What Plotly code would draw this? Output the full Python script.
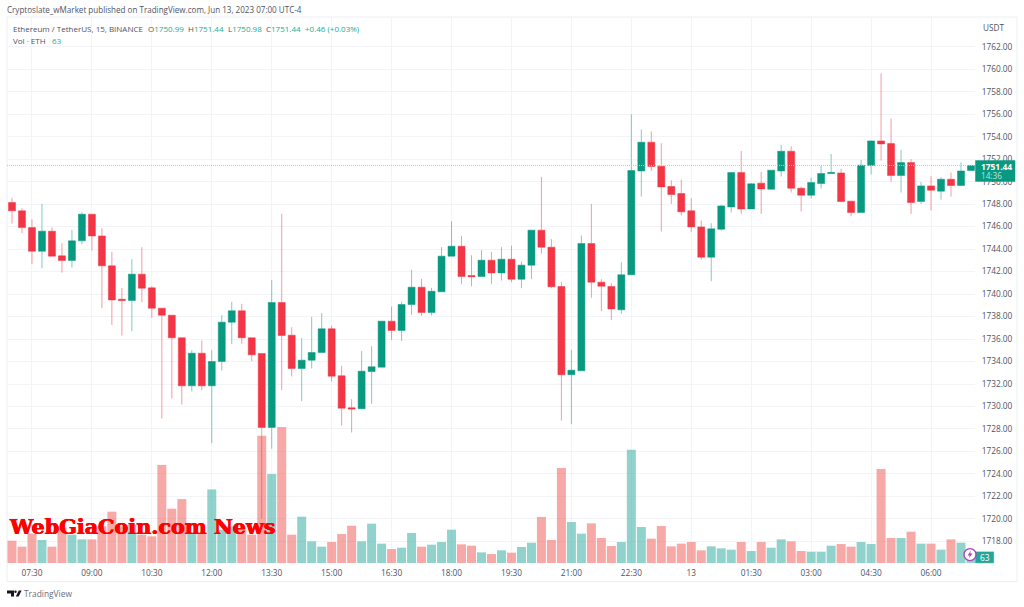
import pandas as pd
import plotly.graph_objects as go

times = pd.date_range("2023-06-12 07:00", periods=97, freq="15min")

opens = [1748.14,1747.40,1745.91,1743.81,1745.59,1743.40,1742.98,1744.73,1747.10,1745.17,
         1742.51,1739.54,1739.43,1741.77,1740.55,1738.74,1738.12,1736.11,1731.84,1734.74,
         1731.84,1734.00,1737.50,1738.51,1736.11,1734.71,1728.14,1739.25,1736.34,1733.38,
         1734.12,1734.80,1736.91,1732.73,1729.88,1729.80,1733.11,1733.50,1737.59,1736.76,
         1739.07,1740.61,1738.36,1740.20,1743.37,1744.25,1741.65,1741.56,1743.01,1741.88,
         1743.10,1741.32,1742.57,1745.68,1744.17,1740.67,1732.82,1733.17,1744.49,1741.06,
         1740.67,1738.60,1741.71,1750.95,1753.50,1751.37,1749.56,1748.94,1747.40,1745.97,
         1743.28,1745.77,1747.75,1750.80,1747.57,1749.86,1749.32,1750.95,1752.70,1749.41,
         1748.79,1749.83,1750.72,1750.77,1748.26,1747.25,1751.43,1753.62,1753.38,1750.54,
         1751.69,1748.23,1749.62,1749.15,1750.21,1749.65,1750.99]
highs = [1748.55,1747.63,1746.65,1748.02,1745.94,1744.52,1745.71,1747.28,1747.10,1745.85,
         1743.75,1740.55,1743.10,1744.17,1740.70,1738.74,1738.12,1736.11,1735.01,1735.87,
         1735.01,1738.12,1739.31,1739.13,1736.11,1734.71,1741.26,1747.13,1737.05,1736.08,
         1737.97,1738.30,1737.17,1733.62,1730.65,1734.92,1735.37,1737.59,1738.89,1739.31,
         1742.15,1741.35,1740.55,1744.17,1746.48,1745.17,1743.45,1743.90,1743.75,1744.17,
         1744.31,1742.89,1745.68,1750.42,1744.88,1741.08,1735.04,1745.20,1748.02,1741.32,
         1740.97,1742.83,1755.99,1754.63,1754.45,1753.41,1750.12,1750.18,1748.52,1746.54,
         1746.30,1747.93,1750.80,1752.73,1749.86,1750.86,1751.01,1753.26,1753.15,1749.56,
         1750.36,1751.40,1752.46,1751.13,1748.29,1751.93,1753.65,1759.63,1755.60,1752.82,
         1751.99,1749.97,1750.51,1750.39,1750.80,1751.72,1751.44]
lows = [1746.27,1745.41,1742.68,1742.30,1743.37,1741.91,1742.36,1744.43,1743.87,1738.74,
        1737.26,1736.31,1736.70,1739.28,1737.88,1728.94,1730.71,1730.18,1731.34,1731.45,
        1726.74,1733.20,1735.54,1735.57,1734.03,1720.02,1726.24,1731.45,1732.67,1730.48,
        1733.38,1734.80,1732.20,1728.31,1727.69,1729.80,1730.24,1733.50,1735.93,1735.84,
        1738.15,1738.06,1738.09,1740.20,1743.37,1740.88,1740.70,1741.56,1740.88,1741.20,
        1741.06,1740.52,1741.32,1743.60,1740.52,1728.76,1728.43,1733.17,1739.66,1738.48,
        1737.68,1738.24,1741.71,1748.67,1750.95,1745.56,1748.02,1746.98,1745.53,1743.04,
        1741.14,1745.65,1747.25,1747.13,1747.57,1747.13,1749.32,1750.45,1749.03,1747.34,
        1748.49,1749.38,1750.72,1748.17,1746.92,1747.25,1750.63,1751.87,1750.00,1749.03,
        1747.13,1748.02,1747.43,1748.40,1748.67,1749.65,1750.98]
closes = [1747.40,1745.91,1743.81,1745.59,1743.37,1742.98,1744.73,1747.10,1745.17,1742.51,
          1739.48,1739.43,1741.77,1740.52,1738.74,1738.12,1736.11,1731.84,1734.74,1731.84,
          1734.00,1737.50,1738.51,1736.11,1734.60,1728.14,1739.25,1736.31,1733.38,1734.12,
          1734.80,1736.91,1732.70,1729.85,1729.77,1733.14,1733.53,1737.59,1736.76,1739.07,
          1740.61,1738.36,1740.25,1743.37,1744.25,1741.56,1741.53,1743.01,1741.88,1743.10,
          1741.32,1742.57,1745.68,1744.17,1740.64,1732.82,1733.23,1744.49,1741.06,1740.70,
          1738.68,1741.71,1750.98,1753.50,1751.34,1749.53,1748.85,1747.31,1745.97,1743.28,
          1745.80,1747.84,1750.80,1747.57,1749.80,1749.35,1751.01,1752.70,1749.41,1748.79,
          1749.92,1750.72,1750.80,1748.23,1747.25,1751.46,1753.62,1753.35,1750.54,1751.69,
          1748.14,1749.62,1749.23,1750.21,1749.65,1750.95,1751.44]
volumes = [281,206,370,290,206,449,357,298,298,462,647,462,483,357,336,1235,685,806,378,370,
           928,420,462,420,357,1604,1121,1714,357,584,273,206,265,365,470,273,496,244,176,193,
           378,206,231,265,420,235,218,134,113,160,130,202,256,580,290,1197,517,370,500,315,
           214,265,1428,454,307,466,210,244,265,160,210,185,168,265,151,265,193,298,273,151,
           143,143,218,239,206,265,239,1184,315,315,395,244,244,168,298,256,63]

tick_times = ["2023-06-12 07:30","2023-06-12 09:00","2023-06-12 10:30","2023-06-12 12:00",
              "2023-06-12 13:30","2023-06-12 15:00","2023-06-12 16:30","2023-06-12 18:00",
              "2023-06-12 19:30","2023-06-12 21:00","2023-06-12 22:30","2023-06-13 00:00",
              "2023-06-13 01:30","2023-06-13 03:00","2023-06-13 04:30","2023-06-13 06:00"]
tick_labels = ["07:30","09:00","10:30","12:00","13:30","15:00","16:30","18:00","19:30","21:00",
               "22:30","13","01:30","03:00","04:30","06:00"]
price_ticks = list(range(1718, 1764, 2))
last_price = 1751.44

GREEN = "#089981"
RED = "#F23645"
GREEN_SOFT = "rgba(8,153,129,0.5)"
RED_SOFT = "rgba(242,54,69,0.5)"
VOL_GREEN = "rgba(38,166,154,0.5)"
VOL_RED = "rgba(239,83,80,0.5)"
GRID = "#F3F4F8"
TEXT = "#50535E"
FONT = "Open Sans"

L, R, T, B = 7, 975, 17, 563.4
px = lambda x: (x - L) / (R - L)
py = lambda y: (B - y) / (B - T)

fig = go.Figure()
fig.add_trace(go.Bar(
    x=times, y=volumes, yaxis="y",
    marker=dict(color=[VOL_GREEN if c >= o else VOL_RED for o, c in zip(opens, closes)], line_width=0),
    hoverinfo="skip", showlegend=False))
fig.add_trace(go.Candlestick(
    x=times, open=opens, high=highs, low=lows, close=closes, yaxis="y2",
    increasing=dict(fillcolor=GREEN, line=dict(color=GREEN_SOFT, width=1)),
    decreasing=dict(fillcolor=RED, line=dict(color=RED_SOFT, width=1)),
    whiskerwidth=0, showlegend=False))


def rect(x0, y0, x1, y1, fill="rgba(0,0,0,0)", line="rgba(0,0,0,0)", layer="above", width=1, kind="rect"):
    return dict(type=kind, xref="paper", yref="paper", x0=px(x0), x1=px(x1), y0=py(y0), y1=py(y1),
                fillcolor=fill, line=dict(color=line, width=width), layer=layer)


def path(points, fill="rgba(0,0,0,0)", line="rgba(0,0,0,0)", width=1):
    d = "M" + " L".join(f"{px(x):.5f},{py(y):.5f}" for x, y in points) + " Z"
    return dict(type="path", xref="paper", yref="paper", path=d, fillcolor=fill,
                line=dict(color=line, width=width), layer="above")


shapes = [
    rect(7, 17, 1017, 582, line="#ECEEF3", layer="below"),
    dict(type="line", xref="paper", yref="y2", x0=0, x1=1, y0=last_price, y1=last_price,
         line=dict(color="#9AD8CD", width=1, dash="1px,1px"), layer="above"),
    rect(975.5, 160.5, 1015, 181.5, fill=GREEN, line="rgba(8,153,129,0.5)"),
    rect(975.5, 552.3, 993.7, 563.3, fill="#26A69A", line="rgba(38,166,154,0.5)"),
    rect(964, 549, 976, 561, fill="#FFFFFF", line="#AB47BC", width=1.4, kind="circle"),
    path([(971, 551), (967.5, 555.8), (969.8, 555.8), (968.8, 559), (972.5, 554), (970.2, 554)], fill="#AB47BC"),
    path([(7, 591), (14, 591), (14, 597), (11, 597), (11, 594), (7, 594)], fill="#131722"),
    rect(14.3, 591, 16.7, 593.4, fill="#131722", kind="circle"),
    path([(15.8, 597), (18.8, 591), (21.6, 591), (18.6, 597)], fill="#131722"),
]


def note(x, y, text, size=8.3, color=TEXT, family=FONT, shadow=None):
    f = dict(size=size, color=color, family=family)
    if shadow:
        f["shadow"] = shadow
    return dict(xref="paper", yref="paper", x=px(x - 1), y=py(y), text=text, showarrow=False,
                xanchor="left", yanchor="middle", align="left", font=f, borderpad=0)


TEAL = "#22AB94"
annotations = [
    note(7, 9.5, "Cryptoslate_wMarket published on TradingView.com, Jun 13, 2023 07:00 UTC-4", size=8.07),
    note(13, 28.7, "Ethereum / TetherUS, 15, BINANCE", size=8),
    note(148, 28.7, f'O<span style="color:{TEAL}">1750.99</span>', size=8),
    note(188, 28.7, f'H<span style="color:{TEAL}">1751.44</span>', size=8),
    note(228, 28.7, f'L<span style="color:{TEAL}">1750.98</span>', size=8),
    note(266, 28.7, f'C<span style="color:{TEAL}">1751.44</span>', size=8),
    note(305, 28.7, "+0.46 (+0.03%)", size=8, color=TEAL),
    note(13, 41, "Vol · ETH", size=8),
    note(52, 41, "63", size=8, color=TEAL),
    note(983, 28, "USDT", size=8.2),
    note(981, 167, "<b>1751.44</b>", size=8.4, color="#FFFFFF"),
    note(981, 176, "14:36", size=8.2, color="#BFE3DC"),
    note(979.5, 558, "63", size=8.4, color="#FFFFFF"),
    note(24, 594, "TradingView", size=8.4, color="#6A6D78"),
    note(9, 527.5, "<b>WebGiaCoin.com News</b>", size=20.7, color="#FF0000", family="DejaVu Serif",
         shadow="0.5px 0 0 #FF0000, -0.5px 0 0 #FF0000"),
]

fig.update_layout(
    width=1024, height=607, autosize=False,
    margin=dict(l=L, r=1024 - R, t=T, b=607 - B, pad=0),
    paper_bgcolor="#FFFFFF", plot_bgcolor="#FFFFFF",
    font=dict(family=FONT, size=8.3, color=TEXT),
    bargap=0.1, boxgap=0.3, boxgroupgap=0, showlegend=False, hovermode=False,
    xaxis=dict(type="date", range=["2023-06-12 06:52:30", "2023-06-13 07:06:02"],
               rangeslider=dict(visible=False), tickmode="array", tickvals=tick_times,
               ticktext=tick_labels, ticks="outside", ticklen=2, tickcolor="rgba(0,0,0,0)",
               showgrid=True, gridcolor=GRID, gridwidth=1, showline=False, zeroline=False,
               tickfont=dict(size=8.3, color=TEXT, family=FONT)),
    yaxis=dict(range=[0, 6885], showticklabels=False, showgrid=False, zeroline=False, ticks=""),
    yaxis2=dict(overlaying="y", side="right", anchor="x", range=[1716.08, 1764.64],
                tickmode="array", tickvals=price_ticks, ticktext=[f"{v:.2f}" for v in price_ticks],
                ticks="outside", ticklen=4, tickcolor="rgba(0,0,0,0)",
                showgrid=True, gridcolor=GRID, gridwidth=1, zeroline=False, showline=False,
                tickfont=dict(size=8.3, color=TEXT, family=FONT)),
    shapes=shapes, annotations=annotations,
)

fig.write_html("out.html", config=dict(displayModeBar=False),
               post_script="document.body.style.margin='0';document.documentElement.style.overflow='hidden';")
